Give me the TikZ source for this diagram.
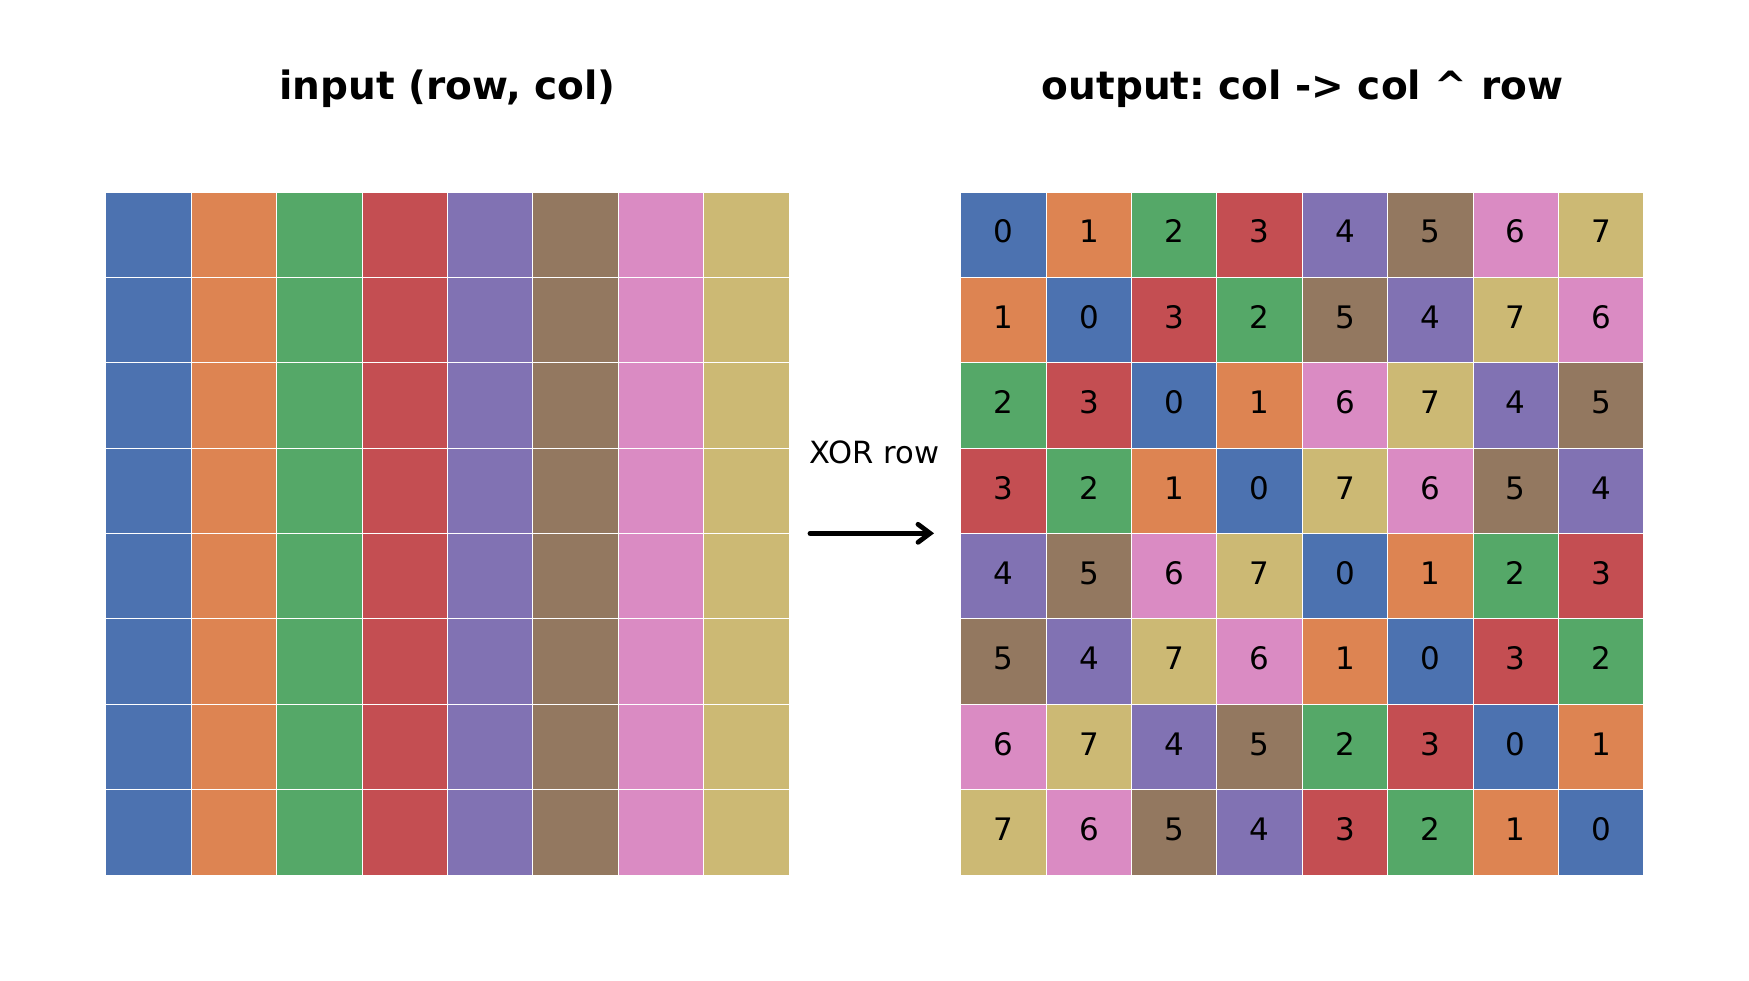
\documentclass[tikz,border=0pt]{standalone}
\usepackage{fontspec}
\setmainfont{DejaVu Sans}
\usetikzlibrary{arrows.meta}
\frenchspacing
\definecolor{c0}{HTML}{4C72B0}
\definecolor{c1}{HTML}{DD8452}
\definecolor{c2}{HTML}{55A868}
\definecolor{c3}{HTML}{C44E52}
\definecolor{c4}{HTML}{8172B3}
\definecolor{c5}{HTML}{937860}
\definecolor{c6}{HTML}{DA8BC3}
\definecolor{c7}{HTML}{CCB974}
\tikzset{
  cell/.style={draw=white, line width=0.5pt, minimum size=42.69pt, inner sep=0pt, outer sep=0pt,
    font=\fontsize{15.5pt}{18pt}\selectfont, text=black, text height=11.3pt, text depth=3pt},
  ttl/.style={anchor=base, font=\fontsize{19.5pt}{23pt}\selectfont\bfseries},
  lbl/.style={anchor=base, font=\fontsize{15.3pt}{18pt}\selectfont},
}
\begin{document}
\begin{tikzpicture}[x=0.5pt, y=-0.5pt]
\useasboundingbox[fill=white] (0,0) rectangle (1749,980);
\node[ttl] (tin) at (447.5,99) {input (row, col)};
\node[ttl] (tout) at (1302.5,99) {output: col -> col \^{} row};
% left grid
\foreach \r in {0,...,7}{
  \foreach \c in {0,...,7}{
    \node[cell, fill=c\c] (L-\r-\c) at ({106+85.375*(\c+0.5)},{192+85.375*(\r+0.5)}) {};
  }
}
% right grid
\foreach \row [count=\r from 0] in {
  {0,1,2,3,4,5,6,7},
  {1,0,3,2,5,4,7,6},
  {2,3,0,1,6,7,4,5},
  {3,2,1,0,7,6,5,4},
  {4,5,6,7,0,1,2,3},
  {5,4,7,6,1,0,3,2},
  {6,7,4,5,2,3,0,1},
  {7,6,5,4,3,2,1,0}}{
  \foreach \v [count=\c from 0] in \row {
    \node[cell, fill=c\v] (R-\r-\c) at ({960.8+85.375*(\c+0.5)},{192+85.375*(\r+0.5)}) {\v};
  }
}
\node[lbl] (xor) at (874.5,463.3) {XOR row};
\coordinate (a0) at (810,533.3);
\coordinate (a1) at (934,533.3);
\draw[line width=2.4pt, line cap=round, -{Straight Barb[length=6pt,width=9pt,line cap=round]}] (a0) -- (a1);
\end{tikzpicture}
\end{document}
